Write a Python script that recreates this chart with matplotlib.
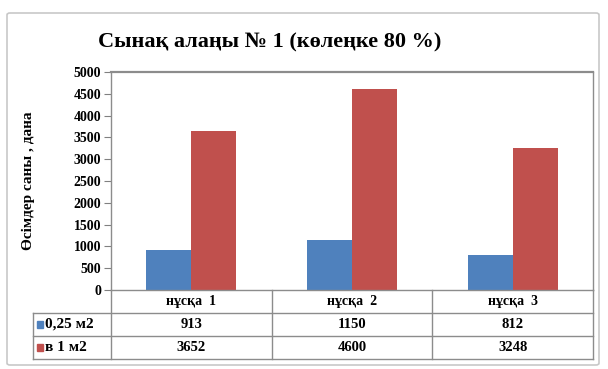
import numpy as np
import matplotlib.pyplot as plt
from matplotlib.patches import Rectangle, FancyBboxPatch

# data
categories = ['нұсқа  1', 'нұсқа  2', 'нұсқа  3']
series_names = ['0,25 м2', 'в 1 м2']
per_quarter = [913, 1150, 812]
per_metre = [3652, 4600, 3248]
colors = ['#4F81BD', '#C0504D']
title = 'Сынақ алаңы № 1 (көлеңке 80 %)'
ylabel = 'Өсімдер саны , дана'

plt.rcParams['font.family'] = ['Liberation Serif', 'DejaVu Serif']
plt.rcParams['font.weight'] = 'bold'

W, H = 608, 369
fig = plt.figure(figsize=(W / 100, H / 100), dpi=100)

# outer chart frame
fig.patches.append(FancyBboxPatch((7 / W, 4 / H), 592 / W, 352 / H,
                                  boxstyle='round,pad=0,rounding_size=0.005',
                                  transform=fig.transFigure, fill=False,
                                  edgecolor='#c8c8c8', linewidth=1.2))

ax = fig.add_axes([111 / W, (H - 290) / H, 482 / W, 218 / H])

x = np.arange(len(categories))
bw = 0.28
ax.bar(x - bw / 2, per_quarter, bw, color=colors[0], zorder=2)
ax.bar(x + bw / 2, per_metre, bw, color=colors[1], zorder=2)

ax.set_xlim(-0.5, len(categories) - 0.5)
ax.set_ylim(0, 5000)
ax.set_yticks(np.arange(0, 5001, 500))
ax.set_xticks([])
ax.tick_params(axis='y', direction='out', length=5, color='#808080',
               labelsize=10, pad=2)
line_col = '#8c8c8c'
for s in ax.spines.values():
    s.set_color(line_col)
    s.set_linewidth(1.0)
ax.spines['top'].set_linewidth(1.6)

ax.set_ylabel(ylabel, fontsize=11, fontweight='bold')
ax.yaxis.set_label_coords(-0.158, 0.5)

# data table under the plot, drawn in axes coordinates
n = len(categories)
lab_w = 78 / 482
row_h = 23 / 218
tr = ax.transAxes
kw = dict(transform=tr, color=line_col, linewidth=1.0, clip_on=False)

edges = [i / n for i in range(n + 1)]
for xe in edges:
    ax.plot([xe, xe], [0, -3 * row_h], **kw)
ax.plot([-lab_w, -lab_w], [-row_h, -3 * row_h], **kw)
for k in (1, 2, 3):
    ax.plot([-lab_w, 1], [-k * row_h, -k * row_h], **kw)

for i, cat in enumerate(categories):
    ax.text((i + 0.5) / n, -0.5 * row_h, cat, transform=tr,
            ha='center', va='center', fontsize=10)

rows = [per_quarter, per_metre]
for r, (name, vals, c) in enumerate(zip(series_names, rows, colors)):
    yc = -(r + 1.5) * row_h
    ax.add_patch(Rectangle((-lab_w + 0.008, yc - 0.014), 0.013, 0.03,
                           transform=tr, color=c, clip_on=False))
    ax.text(-lab_w + 0.025, yc, name, transform=tr, ha='left', va='center',
            fontsize=11)
    for i, v in enumerate(vals):
        ax.text((i + 0.5) / n, yc, str(v), transform=tr,
                ha='center', va='center', fontsize=10.5)

fig.text(270 / W, (H - 42) / H, title, ha='center', va='center',
         fontsize=16, fontweight='bold')

fig.savefig('out.png', dpi=100)
